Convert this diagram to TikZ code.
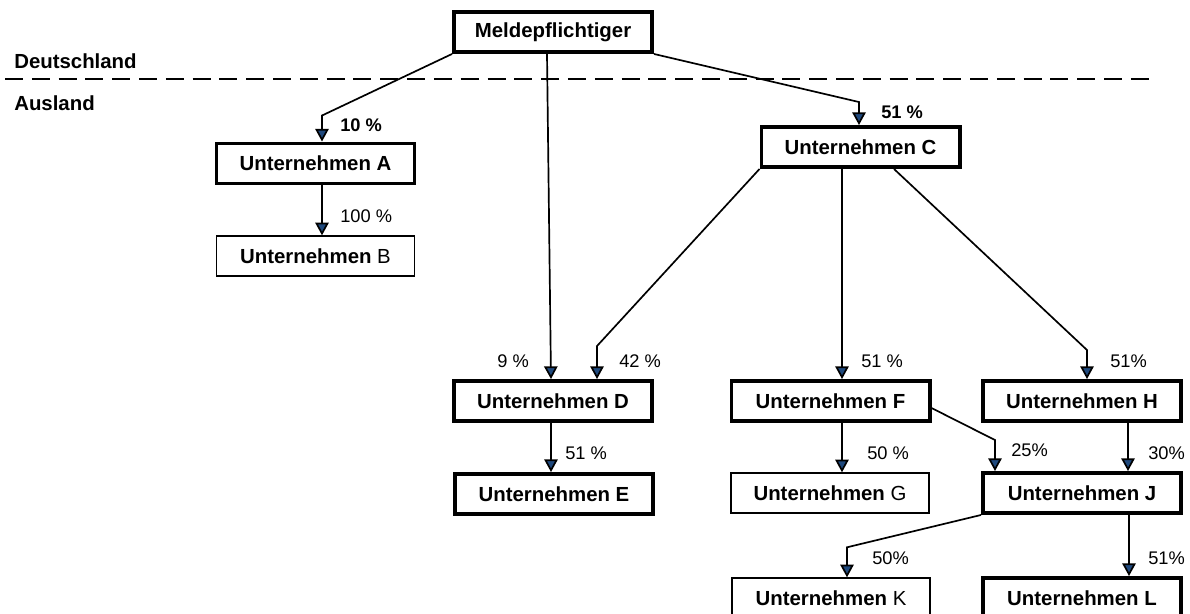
\documentclass[tikz,border=0pt]{standalone}
\usepackage{fontspec}
\setmainfont{Liberation Sans}
\usepackage{tikz}
\usetikzlibrary{calc}
\usetikzlibrary{arrows.meta}
\definecolor{pfeilblau}{RGB}{31,73,125}

\begin{document}
\begin{tikzpicture}[x=0.025cm,y=-0.025cm]
      \tikzstyle{every node}=[inner sep=0pt]
      \tikzstyle{firma}=[draw,line width=2.8pt,minimum width=4.95cm,minimum height=1cm,font=\fontsize{14.5}{17}\selectfont\bfseries]
      \tikzstyle{firmadünn}=[firma,line width=1pt,font=\fontsize{14.5}{17}\selectfont]
      \tikzstyle{anteil}=[anchor=west,font=\fontsize{13}{15}\selectfont]
      \tikzstyle{anteilfett}=[anteil,font=\fontsize{13}{15}\selectfont\bfseries]
      \tikzstyle{pfeil}=[line width=1.2pt,-{Triangle[width=9.5pt,length=9pt,fill=pfeilblau]}]
      \useasboundingbox (0,0) rectangle (1190,613);
      % Grenze
      \draw[line width=1.5pt,dash pattern=on 0.45cm off 0.22cm] (5,79) -- (1151,79);
      \node[anteilfett,font=\fontsize{14.5}{17}\selectfont\bfseries] (de) at (14,61) {Deutschland};
      \node[anteilfett,font=\fontsize{14.5}{17}\selectfont\bfseries] (aus) at (14,103) {Ausland};
      % Firmen
      \node[firma] (M) at (553,32) {Meldepflichtiger};
      \node[firma] (A) at (315.5,163.5) {Unternehmen A};
      \node[firmadünn] (B) at (315.5,256) {\textbf{Unternehmen} B};
      \node[firma] (C) at (860.5,147) {Unternehmen C};
      \node[firma] (D) at (553,401) {Unternehmen D};
      \node[firma] (E) at (554,494) {Unternehmen E};
      \node[firma] (F) at (830.5,401) {Unternehmen F};
      \node[firmadünn] (G) at (830,493) {\textbf{Unternehmen} G};
      \node[firma] (H) at (1082,401) {Unternehmen H};
      \node[firma] (J) at (1082,493) {Unternehmen J};
      \node[firmadünn] (K) at (831,598) {\textbf{Unternehmen} K};
      \node[firma] (L) at (1082,598) {Unternehmen L};
      % Beteiligungen
      \draw[pfeil] (M.south west) -- ($(A.north)+(6.5,-26)$) -- ($(A.north)+(6.5,0)$);
      \draw[pfeil] ($(M.south)+(-6,0)$) -- ($(D.north)+(-2,0)$);
      \draw[pfeil] (M.south east) -- ($(C.north)+(-1.5,-23)$) -- ($(C.north)+(-1.5,0)$);
      \draw[pfeil] ($(A.south)+(6.5,0)$) -- ($(B.north)+(6.5,0)$);
      \draw[pfeil] (C.south west) -- ($(D.north)+(44,-33)$) -- ($(D.north)+(44,0)$);
      \draw[pfeil] ($(C.south)+(-18.5,0)$) -- ($(F.north)+(11.5,0)$);
      \draw[pfeil] ($(C.south)+(33.5,0)$) -- ($(H.north)+(5,-29)$) -- ($(H.north)+(5,0)$);
      \draw[pfeil] ($(D.south)+(-2,0)$) -- ($(E.north)+(-3,0)$);
      \draw[pfeil] ($(F.south)+(11.5,0)$) -- ($(G.north)+(12,0)$);
      \draw[pfeil] ($(F.east)+(0,7)$) -- ($(J.north)+(-87,-31)$) -- ($(J.north)+(-87,0)$);
      \draw[pfeil] ($(H.south)+(46,0)$) -- ($(J.north)+(46,0)$);
      \draw[pfeil] (J.south west) -- ($(K.north)+(16,-30)$) -- ($(K.north)+(16,0)$);
      \draw[pfeil] ($(J.south)+(47,0)$) -- ($(L.north)+(47,0)$);
      % Anteile
      \node[anteilfett] (pA) at (340,125) {10 \%};
      \node[anteilfett] (pC) at (881,112) {51 \%};
      \node[anteil] (pB) at (340,216) {100 \%};
      \node[anteil] (pD1) at (497,361) {9 \%};
      \node[anteil] (pD2) at (619,361) {42 \%};
      \node[anteil] (pE) at (565,453) {51 \%};
      \node[anteil] (pF) at (861,361) {51 \%};
      \node[anteil] (pH) at (1110,361) {51\%};
      \node[anteil] (pG) at (867,453) {50 \%};
      \node[anteil] (pJ1) at (1011,450) {25\%};
      \node[anteil] (pJ2) at (1148,453) {30\%};
      \node[anteil] (pK) at (872,558) {50\%};
      \node[anteil] (pL) at (1148,558) {51\%};
\end{tikzpicture}
\end{document}
